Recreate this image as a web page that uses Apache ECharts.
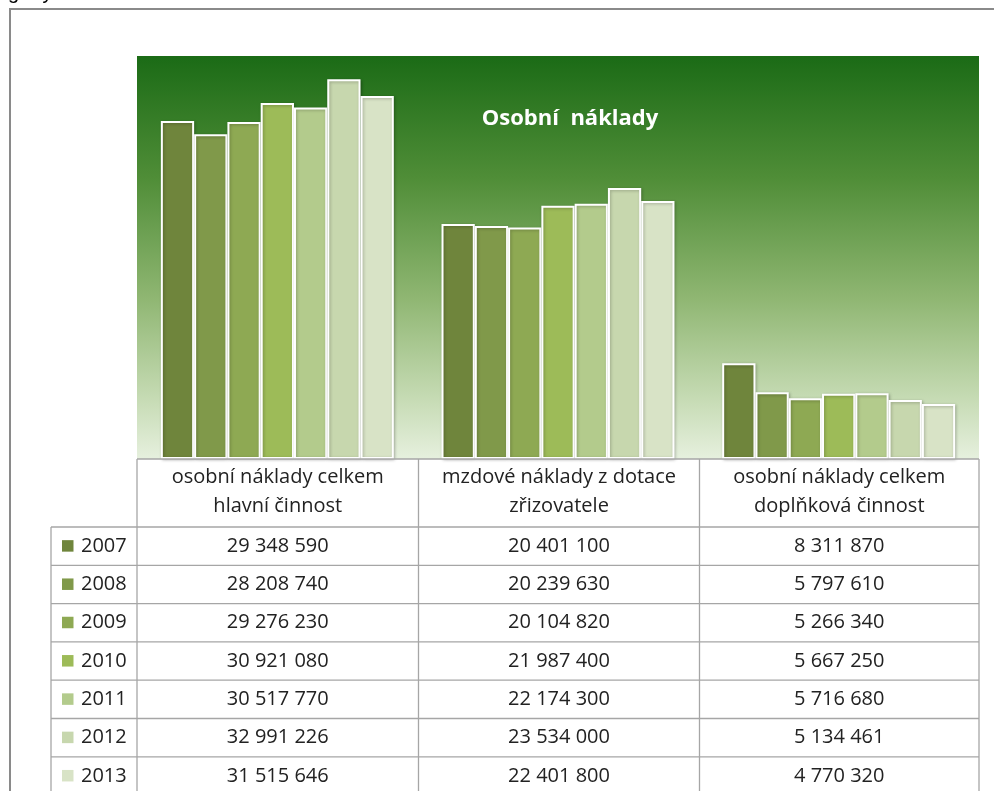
<!DOCTYPE html>
<html><head><meta charset="utf-8">
<script src="https://cdn.jsdelivr.net/npm/echarts@6/dist/echarts.min.js"></script>
<style>html,body{margin:0;padding:0;background:#fff;}#c{width:994px;height:791px;}</style>
</head><body><div id="c"></div>
<script>
const categories = ['osobní náklady celkem\nhlavní činnost', 'mzdové náklady z dotace\nzřizovatele', 'osobní náklady celkem\ndoplňková činnost'];
const years = ['2007','2008','2009','2010','2011','2012','2013'];
const v2007 = [29348590, 20401100, 8311870];
const v2008 = [28208740, 20239630, 5797610];
const v2009 = [29276230, 20104820, 5266340];
const v2010 = [30921080, 21987400, 5667250];
const v2011 = [30517770, 22174300, 5716680];
const v2012 = [32991226, 23534000, 5134461];
const v2013 = [31515646, 22401800, 4770320];
const seriesValues = [v2007, v2008, v2009, v2010, v2011, v2012, v2013];
const colors = ['#6f853c','#80994a','#8ea953','#9dbb58','#b3cb8c','#c7d7ae','#d8e3c6'];
const title = 'Osobní  náklady';

const fmt = n => String(n).replace(/\B(?=(\d{3})+(?!\d))/g, ' ');
const FONT = '"Open Sans"';
const FS = 20;

const chart = echarts.init(document.getElementById('c'), null, {renderer:'canvas'});

// layout
const L = 137, R = 979, T = 56, B = 459;
const colX = [137, 418.5, 699.5, 979];
const legL = 51;
const headBottom = 527;
const rowH = 38.3;

const graphic = [];
graphic.push({type:'rect', shape:{x:10, y:9, width:1000, height:800}, style:{fill:null, stroke:'#8a8a8a', lineWidth:2}, z:0});
graphic.push({type:'text', left:8, top:-17, style:{text:'grafy 3', font:'20px Arial', fill:'#000'}});
const lineStyle = {stroke:'#a6a6a6', lineWidth:1.3};
function hline(x1,x2,y){graphic.push({type:'line', shape:{x1:x1,y1:y,x2:x2,y2:y}, style:lineStyle, z:10});}
function vline(x,y1,y2){graphic.push({type:'line', shape:{x1:x,y1:y1,x2:x,y2:y2}, style:lineStyle, z:10});}
hline(L, R, B);
hline(legL, R, headBottom);
for (let i = 1; i <= years.length; i++) hline(legL, R, headBottom + rowH*i);
colX.forEach(x => vline(x, B, 800));
vline(legL, headBottom, 800);
categories.forEach((c, i) => {
  const cx = (colX[i] + colX[i+1]) / 2;
  graphic.push({type:'text', x:cx, y:(B+headBottom)/2 - 1, style:{text:c, font:FS+'px '+FONT, fill:'#222', align:'center', verticalAlign:'middle', lineHeight:29}, z:11});
});
years.forEach((y, r) => {
  const cy = headBottom + rowH*r + rowH/2;
  graphic.push({type:'rect', shape:{x:62, y:cy-6, width:11.5, height:11.5}, style:{fill:colors[r]}, z:11});
  graphic.push({type:'text', x:81, y:cy, style:{text:y, font:FS+'px '+FONT, fill:'#222', align:'left', verticalAlign:'middle'}, z:11});
  seriesValues[r].forEach((v, i) => {
    const cx = (colX[i] + colX[i+1]) / 2;
    graphic.push({type:'text', x:cx, y:cy, style:{text:fmt(v), font:FS+'px '+FONT, fill:'#222', align:'center', verticalAlign:'middle'}, z:11});
  });
});

const option = {
  animation: false,
  backgroundColor: '#ffffff',
  title: {text: title, left: 565, top: 103, textAlign:'center', textStyle:{color:'#ffffff', fontSize:22, fontWeight:'bold', fontFamily:'Open Sans'}},
  grid: {left: L, top: T, width: R-L, height: B-T, show: true, borderWidth: 0,
    backgroundColor: new echarts.graphic.LinearGradient(0,0,0,1,[
      {offset:0, color:'#1b6b16'},
      {offset:0.3, color:'#4f8d37'},
      {offset:0.6, color:'#8fb672'},
      {offset:0.85, color:'#c6dbb4'},
      {offset:1, color:'#e6f0de'}
    ])},
  xAxis: {type:'category', data: categories, show:false},
  yAxis: {type:'value', min:0, max:35000000, show:false, splitLine:{show:false}},
  series: years.map((y, i) => ({
    name: y, type:'bar', data: seriesValues[i], barGap:'0%', barCategoryGap:'17%',
    itemStyle:{color: colors[i], borderColor:'#ffffff', borderWidth:2, shadowBlur:3, shadowColor:'rgba(0,0,0,0.25)', shadowOffsetX:1, shadowOffsetY:1}
  })),
  graphic: graphic
};
chart.setOption(option);
</script></body></html>
